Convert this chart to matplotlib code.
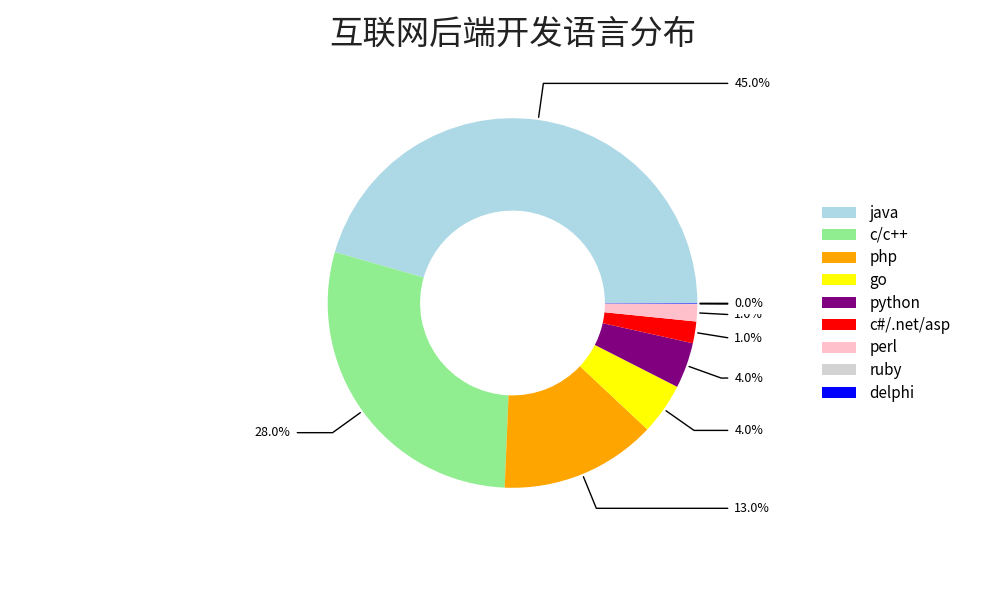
import matplotlib.pyplot as plt
import numpy as np

plt.rcParams['font.family'] = ['Noto Sans CJK SC', 'DejaVu Sans']

languages = ['java', 'c/c++', 'php', 'go', 'python', 'c#/.net/asp', 'perl', 'ruby', 'delphi']
shares = [45.6, 28.8, 13.7, 4.5, 4.0, 1.9, 1.5, 0.05, 0.05]
colors = ['lightblue', 'lightgreen', 'orange', 'yellow', 'purple', 'red', 'pink', 'lightgray', 'blue']


def draw_chart():
    fig, ax = plt.subplots(figsize=(10, 6), dpi=100)
    wedges, _ = ax.pie(shares, colors=colors, startangle=0,
                       wedgeprops=dict(width=0.5))

    bbox_props = dict(boxstyle="square,pad=0.3", fc="w", ec="none")
    kw = dict(arrowprops=dict(arrowstyle="-", color="black", lw=1),
              bbox=bbox_props, zorder=0, va="center", fontsize=9)

    for i, p in enumerate(wedges):
        ang = (p.theta2 - p.theta1) / 2. + p.theta1
        y = np.sin(np.deg2rad(ang))
        x = np.cos(np.deg2rad(ang))
        ha = {-1: "right", 1: "left"}[int(np.sign(x))]
        conn = "angle,angleA=0,angleB={}".format(ang)
        kw["arrowprops"].update({"connectionstyle": conn})
        ax.annotate("%.1f%%" % int(shares[i]), xy=(x, y),
                    xytext=(1.2 * np.sign(x), 1.2 * y),
                    ha=ha, **kw)

    ax.legend(wedges, languages, loc="center left", frameon=False,
              bbox_to_anchor=(1.14, 0.5), fontsize=11,
              labelspacing=0.36, handlelength=2.2, handletextpad=0.9)
    ax.set_title("互联网后端开发语言分布", fontsize=24, color='#222222', pad=20)
    fig.savefig("out.png")


if __name__ == '__main__':
    draw_chart()
